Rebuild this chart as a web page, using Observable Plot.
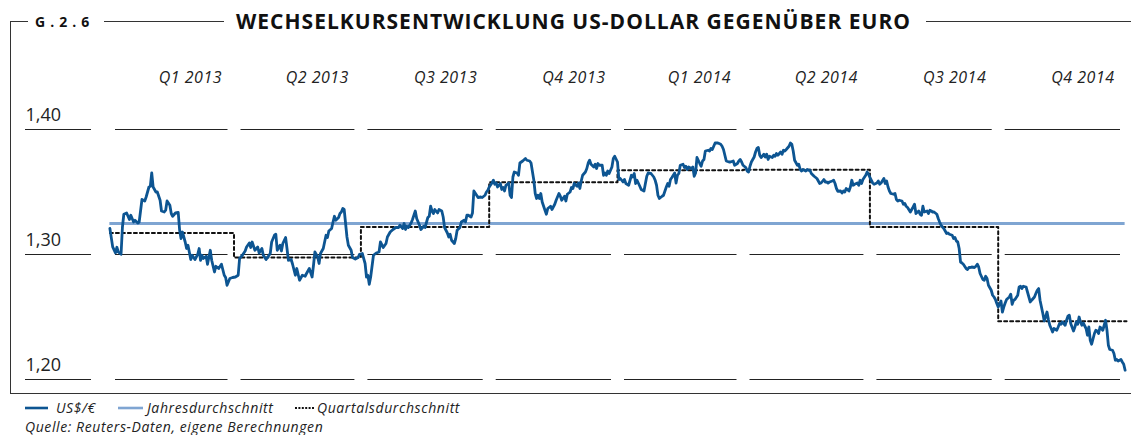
<!DOCTYPE html>
<html>
<head>
<meta charset="utf-8">
<script src="https://cdn.jsdelivr.net/npm/d3@7"></script>
<script src="https://cdn.jsdelivr.net/npm/@observablehq/plot@0.6"></script>
<style>
  html, body { margin: 0; padding: 0; background: #fff; }
  body { font-family: "Open Sans", "Noto Sans", sans-serif; color: #111; }
  #page { position: relative; width: 1131px; height: 435px; overflow: hidden; }
  .hl { position: absolute; height: 0; border-top: 1px solid #333; }
  .vl { position: absolute; width: 0; border-left: 1px solid #333; }
  #gnum { position: absolute; left: 35px; top: 12px; font-weight: 700; font-size: 14px; line-height: 20px; letter-spacing: 5px; white-space: nowrap; }
  #title { position: absolute; left: 236px; top: 7px; font-weight: 700; font-size: 21px; line-height: 28px; white-space: nowrap; }
  #chart { position: absolute; left: 0; top: 0; }
  .leg { position: absolute; font-style: italic; font-size: 14px; line-height: 15px; letter-spacing: 0.6px; white-space: nowrap; color: #222; }
  .sw { position: absolute; }
</style>
</head>
<body>
<div id="page">
  <div class="hl" style="left:10px; top:21px; width:18px"></div>
  <div id="gnum">G.2.6</div>
  <div class="hl" style="left:104px; top:21px; width:120px"></div>
  <div id="title">WECHSELKURSENTWICKLUNG US-DOLLAR GEGENÜBER EURO</div>
  <div class="hl" style="left:926px; top:21px; width:205px"></div>
  <div class="vl" style="left:10px; top:21px; height:372px"></div>
  <div class="hl" style="left:10px; top:393px; width:1121px"></div>
  <div id="chart"></div>
  <div id="legend"></div>
</div>
<script>
// ---- data (day = days since 2013-01-01, rate = US$ per €) ----
const kursQ1_2013 = [[1,1.3208],[3,1.3061],[5,1.3013],[6,1.3058],[7,1.3020],[9,1.3002],[10,1.3220],[11,1.3322],[13,1.3332],[15,1.3280],[16,1.3314],[18,1.3260],[19,1.3274],[21,1.3252],[22,1.3260],[24,1.3440],[26,1.3428],[27,1.3460],[29,1.3540],[30,1.3546],[31,1.3652],[32,1.3540],[34,1.3500],[35,1.3500],[37,1.3434],[38,1.3348],[40,1.3340],[41,1.3354],[42,1.3428],[44,1.3394],[45,1.3328],[46,1.3306],[48,1.3332],[50,1.3336],[51,1.3194],[52,1.3128],[53,1.3180],[55,1.3100],[56,1.3048],[57,1.3074],[59,1.2960],[60,1.2994],[62,1.2960],[64,1.3002],[65,1.3048],[66,1.2954],[67,1.2994],[68,1.2968],[70,1.2986],[71,1.2922],[72,1.2980],[73,1.3034],[74,1.2954],[76,1.2860],[77,1.2906],[79,1.2888],[81,1.2922],[83,1.2834],[84,1.2816],[85,1.2754],[87,1.2808],[89,1.2816]];
const kursQ2_2013 = [[91,1.2820],[93,1.2834],[94,1.2968],[96,1.2994],[98,1.3028],[99,1.3060],[101,1.3092],[102,1.3056],[103,1.3100],[105,1.3034],[107,1.3060],[108,1.3012],[110,1.3048],[111,1.2994],[113,1.2960],[114,1.2976],[116,1.3008],[117,1.3100],[119,1.3154],[120,1.3162],[121,1.3034],[123,1.3074],[124,1.3028],[125,1.3088],[127,1.3136],[128,1.3048],[129,1.2954],[131,1.2960],[132,1.2922],[134,1.2834],[135,1.2888],[137,1.2794],[139,1.2834],[141,1.2826],[142,1.2848],[144,1.2888],[146,1.2820],[147,1.2914],[148,1.3020],[150,1.2980],[151,1.2928],[152,1.3008],[154,1.3048],[156,1.3154],[157,1.3136],[158,1.3188],[160,1.3208],[161,1.3260],[162,1.3306],[163,1.3274],[165,1.3296],[166,1.3328],[167,1.3340],[168,1.3368],[169,1.3360],[171,1.3140],[172,1.3074],[174,1.3034],[175,1.2976],[177,1.2964],[179,1.2976],[180,1.3002]];
const kursQ3_2013 = [[182,1.3008],[184,1.2928],[185,1.2820],[186,1.2834],[187,1.2762],[188,1.2820],[190,1.2994],[192,1.3012],[194,1.3020],[195,1.3100],[197,1.3056],[199,1.3088],[200,1.3140],[202,1.3180],[204,1.3200],[206,1.3216],[208,1.3216],[209,1.3234],[211,1.3208],[212,1.3248],[213,1.3200],[214,1.3226],[215,1.3216],[217,1.3252],[218,1.3280],[220,1.3348],[221,1.3288],[223,1.3234],[224,1.3200],[226,1.3226],[227,1.3216],[229,1.3296],[230,1.3306],[231,1.3386],[232,1.3348],[233,1.3328],[234,1.3360],[236,1.3332],[237,1.3360],[239,1.3348],[240,1.3300],[241,1.3216],[243,1.3172],[244,1.3140],[245,1.3162],[246,1.3114],[248,1.3088],[249,1.3128],[250,1.3194],[252,1.3216],[253,1.3260],[255,1.3274],[256,1.3260],[257,1.3314],[258,1.3314],[260,1.3300],[261,1.3332],[262,1.3508],[264,1.3474],[265,1.3456],[267,1.3460],[268,1.3456],[270,1.3474],[271,1.3500],[272,1.3514]];
const kursQ4_2013 = [[273,1.3540],[275,1.3572],[276,1.3594],[277,1.3562],[278,1.3572],[279,1.3540],[281,1.3568],[282,1.3520],[283,1.3536],[284,1.3508],[285,1.3554],[287,1.3572],[288,1.3474],[289,1.3456],[290,1.3620],[291,1.3660],[293,1.3652],[294,1.3634],[295,1.3732],[297,1.3748],[299,1.3768],[300,1.3754],[302,1.3748],[303,1.3732],[305,1.3594],[306,1.3488],[307,1.3448],[308,1.3474],[309,1.3448],[310,1.3488],[311,1.3420],[313,1.3354],[314,1.3322],[315,1.3368],[317,1.3386],[318,1.3360],[320,1.3402],[321,1.3434],[323,1.3488],[324,1.3466],[325,1.3434],[327,1.3466],[328,1.3428],[329,1.3482],[331,1.3500],[332,1.3536],[333,1.3528],[334,1.3568],[336,1.3546],[337,1.3572],[338,1.3528],[339,1.3588],[340,1.3634],[342,1.3660],[343,1.3688],[344,1.3732],[345,1.3754],[346,1.3722],[348,1.3700],[349,1.3722],[350,1.3688],[351,1.3728],[352,1.3714],[354,1.3714],[355,1.3634],[356,1.3652],[357,1.3634],[358,1.3668],[359,1.3648],[361,1.3700],[362,1.3768],[363,1.3786]];
const kursQ1_2014 = [[365,1.3740],[366,1.3600],[367,1.3608],[369,1.3580],[370,1.3600],[371,1.3568],[373,1.3554],[375,1.3634],[376,1.3620],[377,1.3648],[378,1.3568],[379,1.3594],[381,1.3546],[382,1.3520],[384,1.3508],[385,1.3568],[386,1.3626],[387,1.3652],[389,1.3648],[391,1.3620],[392,1.3594],[393,1.3554],[394,1.3474],[395,1.3448],[397,1.3466],[398,1.3474],[400,1.3540],[401,1.3568],[402,1.3546],[403,1.3600],[404,1.3616],[406,1.3652],[407,1.3572],[408,1.3634],[409,1.3648],[410,1.3714],[412,1.3722],[413,1.3696],[414,1.3706],[415,1.3680],[416,1.3700],[418,1.3688],[419,1.3700],[420,1.3626],[421,1.3652],[422,1.3776],[424,1.3728],[425,1.3706],[426,1.3748],[427,1.3760],[428,1.3828],[430,1.3834],[431,1.3828],[432,1.3848],[433,1.3840],[434,1.3866],[435,1.3892],[437,1.3892],[439,1.3882],[440,1.3866],[441,1.3840],[443,1.3748],[445,1.3740],[446,1.3740],[448,1.3748],[449,1.3714],[451,1.3728],[452,1.3748],[453,1.3760],[454,1.3740]];
const kursQ2_2014 = [[455,1.3714],[457,1.3696],[458,1.3668],[459,1.3660],[460,1.3706],[461,1.3740],[463,1.3780],[464,1.3820],[465,1.3848],[466,1.3856],[467,1.3794],[468,1.3776],[470,1.3802],[471,1.3780],[472,1.3802],[473,1.3760],[474,1.3786],[476,1.3776],[477,1.3794],[478,1.3786],[479,1.3808],[480,1.3794],[482,1.3820],[483,1.3802],[484,1.3834],[485,1.3828],[486,1.3840],[488,1.3866],[489,1.3892],[490,1.3882],[491,1.3828],[492,1.3754],[494,1.3714],[495,1.3722],[496,1.3680],[497,1.3668],[498,1.3680],[500,1.3668],[501,1.3680],[502,1.3674],[503,1.3674],[504,1.3648],[506,1.3626],[508,1.3608],[509,1.3588],[510,1.3568],[511,1.3572],[513,1.3600],[514,1.3580],[515,1.3580],[516,1.3572],[517,1.3580],[519,1.3588],[520,1.3594],[521,1.3568],[522,1.3528],[523,1.3506],[525,1.3508],[526,1.3492],[527,1.3508],[528,1.3500],[529,1.3528],[531,1.3508],[532,1.3540],[533,1.3594],[534,1.3554],[535,1.3562],[537,1.3572],[538,1.3554],[539,1.3594],[540,1.3568],[541,1.3600],[543,1.3634],[544,1.3660],[545,1.3642]];
const kursQ3_2014 = [[546,1.3616],[547,1.3594],[548,1.3572],[549,1.3562],[551,1.3572],[552,1.3588],[553,1.3562],[554,1.3572],[556,1.3608],[557,1.3568],[558,1.3588],[559,1.3540],[560,1.3508],[561,1.3488],[563,1.3482],[564,1.3488],[565,1.3440],[566,1.3428],[567,1.3434],[569,1.3428],[570,1.3402],[571,1.3408],[572,1.3386],[573,1.3376],[575,1.3340],[576,1.3360],[577,1.3380],[578,1.3402],[579,1.3328],[581,1.3348],[582,1.3322],[583,1.3314],[584,1.3386],[585,1.3340],[587,1.3348],[588,1.3328],[589,1.3354],[590,1.3348],[591,1.3340],[592,1.3340],[594,1.3322],[595,1.3288],[596,1.3260],[597,1.3234],[599,1.3208],[600,1.3188],[601,1.3168],[602,1.3172],[603,1.3162],[605,1.3154],[606,1.3128],[607,1.3136],[608,1.3108],[609,1.3100],[610,1.3048],[611,1.2940],[612,1.2932],[613,1.2922],[615,1.2888],[616,1.2880],[617,1.2896],[618,1.2896],[619,1.2900],[621,1.2896],[622,1.2906],[623,1.2922],[624,1.2900],[625,1.2848],[627,1.2800],[628,1.2794],[629,1.2826],[630,1.2808],[631,1.2754],[633,1.2714],[634,1.2674],[635,1.2660],[636,1.2640],[637,1.2608]];
const kursQ4_2014 = [[638,1.2580],[640,1.2628],[641,1.2540],[642,1.2580],[643,1.2612],[644,1.2640],[646,1.2660],[647,1.2682],[648,1.2602],[649,1.2634],[650,1.2640],[652,1.2674],[653,1.2740],[654,1.2746],[655,1.2728],[656,1.2746],[658,1.2740],[659,1.2700],[660,1.2660],[661,1.2620],[662,1.2634],[664,1.2660],[665,1.2688],[666,1.2714],[667,1.2728],[668,1.2634],[670,1.2528],[671,1.2468],[672,1.2500],[673,1.2540],[674,1.2480],[675,1.2434],[676,1.2408],[677,1.2380],[678,1.2408],[680,1.2394],[681,1.2420],[682,1.2448],[683,1.2442],[684,1.2460],[686,1.2434],[687,1.2474],[688,1.2506],[689,1.2514],[690,1.2448],[692,1.2388],[693,1.2420],[694,1.2460],[695,1.2442],[696,1.2500],[697,1.2460],[698,1.2434],[699,1.2452],[701,1.2408],[702,1.2354],[703,1.2420],[704,1.2314],[705,1.2282],[707,1.2368],[708,1.2394],[709,1.2388],[710,1.2368],[711,1.2420],[713,1.2394],[714,1.2434],[715,1.2474],[716,1.2394],[717,1.2274],[718,1.2240],[720,1.2234],[721,1.2208],[722,1.2154],[723,1.2160],[724,1.2148],[726,1.2160],[727,1.2140],[728,1.2122],[729,1.2074]];

const quartalLabels = ["Q1 2013","Q2 2013","Q3 2013","Q4 2013","Q1 2014","Q2 2014","Q3 2014","Q4 2014"];
const quartalStart = ["2013-01-01","2013-04-01","2013-07-01","2013-10-01","2014-01-01","2014-04-01","2014-07-01","2014-10-01","2015-01-01"];
const quartalsMittel = [1.3172, 1.2976, 1.3221, 1.3578, 1.3674, 1.3678, 1.3221, 1.2466];
const jahresMittel = 1.3248;
const yTicks = [1.20, 1.30, 1.40];
const yTickLabels = ["1,20", "1,30", "1,40"];

// ---- build ----
const t0 = Date.UTC(2013, 0, 1);
const toDate = d => new Date(t0 + d * 864e5);
const kurs = [kursQ1_2013, kursQ2_2013, kursQ3_2013, kursQ4_2013, kursQ1_2014, kursQ2_2014, kursQ3_2014, kursQ4_2014]
  .flat().map(([d, v]) => ({date: toDate(d), value: v}));
const qDates = quartalStart.map(s => new Date(s + "T00:00:00Z"));
const firstDate = kurs[0].date, lastDate = kurs[kurs.length - 1].date;

const steps = quartalsMittel.map((v, i) => ({date: i === 0 ? firstDate : qDates[i], value: v}));
steps.push({date: qDates[8], value: quartalsMittel[7]});

const grid = [];
for (const y of yTicks) for (let i = 0; i < 8; i++) grid.push({y, x1: qDates[i], x2: qDates[i + 1]});

const blue = "#0d5592", light = "#7fa5d2";

const chart = Plot.plot({
  width: 1131, height: 393,
  marginLeft: 108, marginRight: 5, marginTop: 129, marginBottom: 14,
  style: {fontFamily: "'Open Sans', sans-serif", color: "#111", background: "transparent", overflow: "visible"},
  x: {type: "utc", domain: [qDates[0], qDates[8]], axis: null},
  y: {domain: [1.20, 1.40], axis: null},
  marks: [
    Plot.ruleY(grid, {y: "y", x1: "x1", x2: "x2", insetLeft: 7, insetRight: 6, stroke: "#222", strokeWidth: 1.2}),
    Plot.tickY(yTicks, {y: d => d, insetLeft: -83, insetRight: 1035, stroke: "#222", strokeWidth: 1.2}),
    Plot.text(yTicks, {y: d => d, text: (d, i) => yTickLabels[i], frameAnchor: "left", textAnchor: "start", lineAnchor: "middle", dx: -83, dy: -14, fontSize: 18, fill: "#222"}),
    Plot.text(quartalLabels, {x: (d, i) => qDates[i + 1], text: d => d, frameAnchor: "top", textAnchor: "end", lineAnchor: "middle", dx: -12, dy: -52, fontSize: 16, fontStyle: "italic", fill: "#222"}),
    Plot.ruleY([jahresMittel], {y: d => d, x1: firstDate, x2: lastDate, stroke: light, strokeWidth: 3}),
    Plot.line(steps, {x: "date", y: "value", curve: "step-after", stroke: "#111", strokeWidth: 2, strokeDasharray: "3,3"}),
    Plot.line(kurs, {x: "date", y: "value", stroke: blue, strokeWidth: 2.8, strokeLinejoin: "round"})
  ]
});
chart.querySelectorAll("text").forEach(t => { if (t.textContent.startsWith("Q")) t.style.letterSpacing = "0.5px"; });
document.getElementById("chart").appendChild(chart);

// fit title width
const title = document.getElementById("title");
const target = 674;
const nat = title.getBoundingClientRect().width;
const n = title.textContent.length;
title.style.letterSpacing = ((target - nat) / (n - 1)) + "px";

// legend
const legend = document.getElementById("legend");
legend.innerHTML = `
  <svg class="sw" style="left:25px; top:403px" width="24" height="10"><line x1="0" x2="23" y1="5" y2="5" stroke="${blue}" stroke-width="2.6"/></svg>
  <div class="leg" style="left:56px; top:400px">US$/€</div>
  <svg class="sw" style="left:118px; top:403px" width="26" height="10"><line x1="0" x2="25" y1="5" y2="5" stroke="${light}" stroke-width="2.6"/></svg>
  <div class="leg" style="left:147px; top:400px">Jahresdurchschnitt</div>
  <svg class="sw" style="left:295px; top:403px" width="20" height="10"><line x1="0" x2="19" y1="5" y2="5" stroke="#111" stroke-width="2" stroke-dasharray="2,1.4"/></svg>
  <div class="leg" style="left:317px; top:400px">Quartalsdurchschnitt</div>
  <div class="leg" style="left:25px; top:419px">Quelle: Reuters-Daten, eigene Berechnungen</div>`;
</script>
</body>
</html>
